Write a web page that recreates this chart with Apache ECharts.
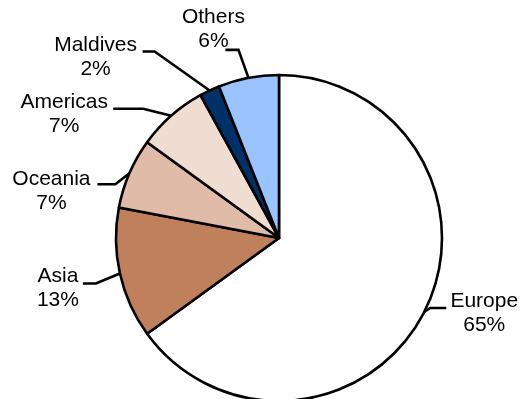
<!DOCTYPE html>
<html>
<head>
<meta charset="utf-8">
<script src="https://cdn.jsdelivr.net/npm/echarts@6/dist/echarts.min.js"></script>
<style>
  html, body { margin: 0; padding: 0; background: #fff; }
  #chart { width: 528px; height: 399px; }
</style>
</head>
<body>
<div id="chart"></div>
<script>
// Visitor share by region of origin (%)
const regions = ['Europe', 'Asia', 'Oceania', 'Americas', 'Maldives', 'Others'];
const shares = [65, 13, 7, 7, 2, 6];
const sliceColors = ['#FFFFFF', '#C0805C', '#E0BCA8', '#EFDDD2', '#003068', '#99C4FF'];

// Leader line shape per slice, relative to the point where the line leaves the rim:
// [kneeDx, kneeDy, endDx, labelDx, labelDy]
const leaderShapes = [
  [6, -4, 22, 60, 1],
  [-24, 10, -37, -62, 15],
  [-14, 11, -32, -78, 18],
  [-28, -7, -58, -107, -2],
  [-55, -39, -67, -114, -33],
  [-10, -28, -23, -35, -49]
];

const chart = echarts.init(document.getElementById('chart'), null, { renderer: 'canvas' });

chart.setOption({
  animation: false,
  backgroundColor: '#ffffff',
  series: [{
    type: 'pie',
    center: [279, 238],
    radius: 163,
    startAngle: 90,
    clockwise: true,
    avoidLabelOverlap: false,
    data: regions.map((name, i) => ({
      name: name,
      value: shares[i],
      itemStyle: { color: sliceColors[i] }
    })),
    itemStyle: { borderColor: '#000000', borderWidth: 2.6 },
    label: {
      show: true,
      position: 'outside',
      formatter: '{b}\n{c}%',
      fontFamily: 'Liberation Sans, Arial, sans-serif',
      fontSize: 21,
      lineHeight: 24,
      color: '#000000'
    },
    labelLine: {
      show: true,
      length: 10,
      length2: 10,
      smooth: false,
      lineStyle: { color: '#000000', width: 2.6 }
    },
    emphasis: { disabled: true },
    labelLayout: function (params) {
      const s = leaderShapes[params.dataIndex];
      const p0 = params.labelLinePoints[0];
      const knee = [p0[0] + s[0], p0[1] + s[1]];
      const end = [p0[0] + s[2], knee[1]];
      return {
        x: p0[0] + s[3],
        y: p0[1] + s[4],
        align: 'center',
        verticalAlign: 'middle',
        labelLinePoints: [p0, knee, end]
      };
    }
  }]
});
</script>
</body>
</html>
